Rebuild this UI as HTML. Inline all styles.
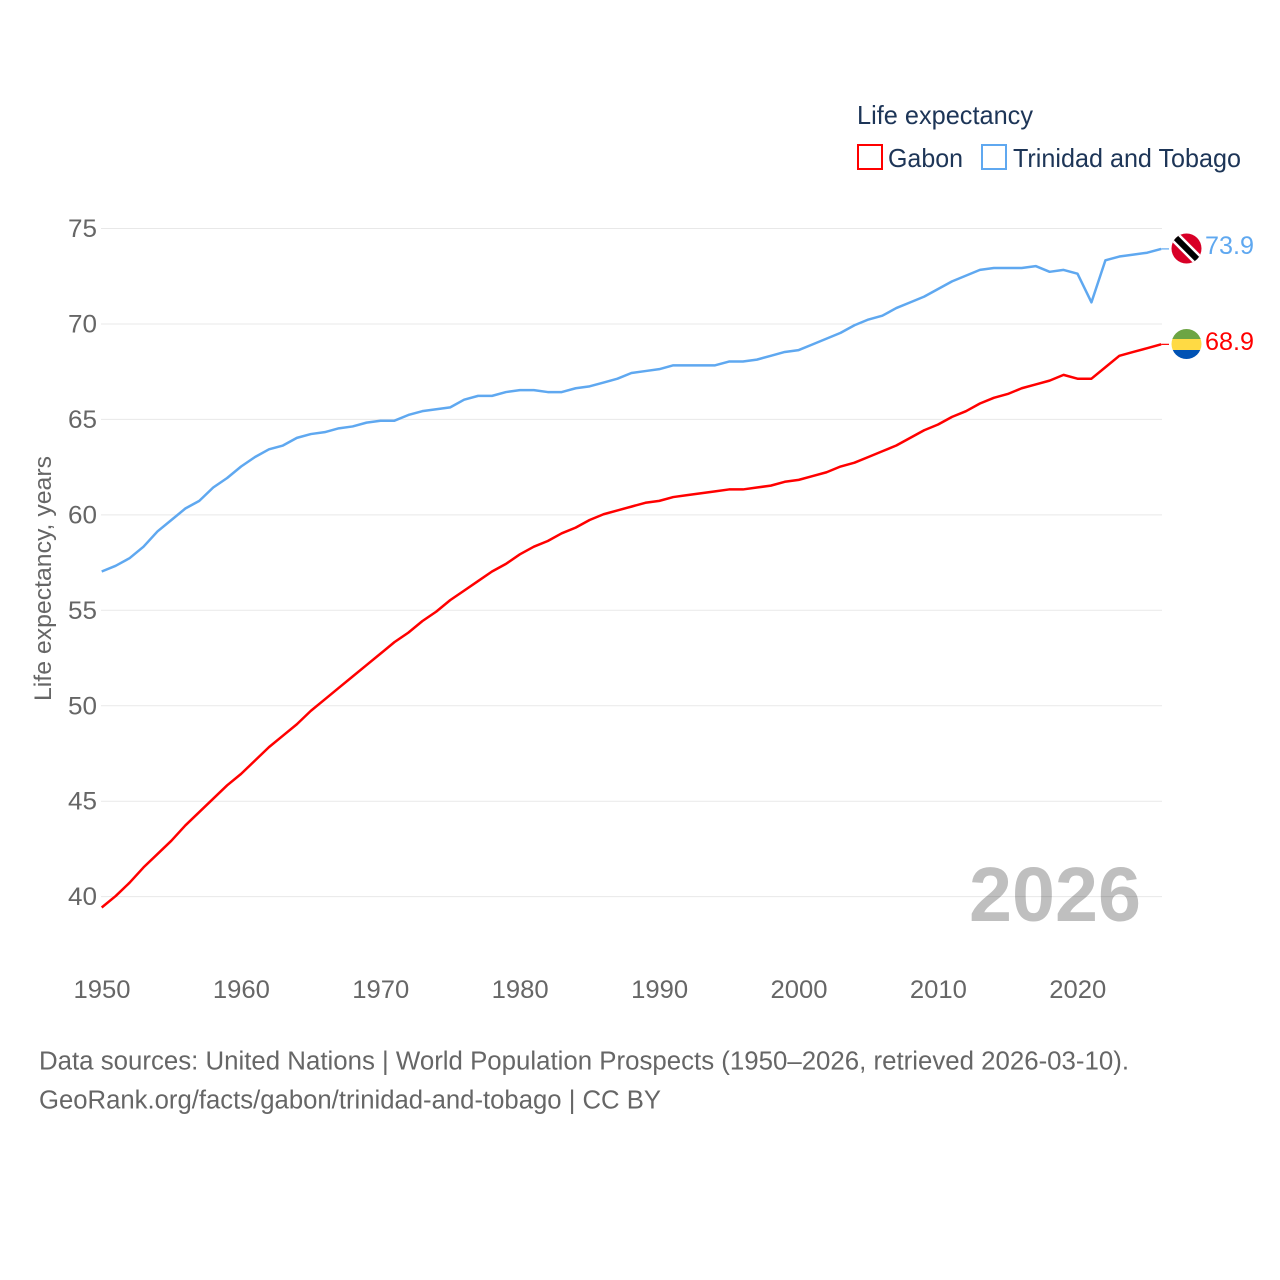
<!DOCTYPE html>
<html lang="en">
<head>
<meta charset="utf-8">
<title>Life expectancy: Gabon and Trinidad and Tobago</title>
<style>
html,body{margin:0;padding:0;background:#fff}
svg{display:block}
text{font-family:"Liberation Sans",sans-serif}
</style>
</head>
<body>
<svg id="chart" xmlns="http://www.w3.org/2000/svg" width="1280" height="1280" viewBox="0 0 1280 1280">
  <rect width="1280" height="1280" fill="#fff"/>
  <text x="969" y="921" font-size="77" font-weight="700" fill="#bfbfbf" textLength="172" lengthAdjust="spacingAndGlyphs">2026</text>
  <g id="grid"></g>
  <g id="yticks"></g>
  <g id="xticks"></g>
  <text transform="translate(51 701) rotate(-90)" font-size="24" fill="#666" textLength="245" lengthAdjust="spacingAndGlyphs">Life expectancy, years</text>
  <g id="series"></g>

  <g>
    <clipPath id="tt"><circle cx="1186.5" cy="248.5" r="15"/></clipPath>
    <g clip-path="url(#tt)">
      <rect x="1171" y="233" width="31" height="31" fill="#d80027"/>
      <line x1="1171" y1="233" x2="1202" y2="264" stroke="#fff" stroke-width="11"/>
      <line x1="1171" y1="233" x2="1202" y2="264" stroke="#000" stroke-width="6"/>
    </g>
  </g>
  <g>
    <clipPath id="ga"><circle cx="1186.5" cy="344" r="15"/></clipPath>
    <g clip-path="url(#ga)">
      <rect x="1171" y="329" width="31" height="10" fill="#6da544"/>
      <rect x="1171" y="339" width="31" height="11" fill="#ffda44"/>
      <rect x="1171" y="350" width="31" height="10" fill="#0052b4"/>
    </g>
  </g>
  <text x="1205" y="254" font-size="25" fill="#5fa8f0" textLength="49" lengthAdjust="spacingAndGlyphs">73.9</text>
  <text x="1205" y="350" font-size="25" fill="#ff0000" textLength="49" lengthAdjust="spacingAndGlyphs">68.9</text>

  <g>
    <text x="857" y="124" font-size="26" fill="#1d3557" textLength="176" lengthAdjust="spacingAndGlyphs">Life expectancy</text>
    <g>
      <rect x="858" y="145" width="24" height="24" fill="#fff" stroke="#ff0000" stroke-width="2"/>
      <text x="888" y="167" font-size="26" fill="#1d3557" textLength="75" lengthAdjust="spacingAndGlyphs">Gabon</text>
    </g>
    <g>
      <rect x="982" y="145" width="24" height="24" fill="#fff" stroke="#5fa8f0" stroke-width="2"/>
      <text x="1013" y="167" font-size="26" fill="#1d3557" textLength="228" lengthAdjust="spacingAndGlyphs">Trinidad and Tobago</text>
    </g>
  </g>

  <g>
    <text x="39" y="1069.5" font-size="25.5" fill="#666" textLength="1090" lengthAdjust="spacingAndGlyphs">Data sources: United Nations | World Population Prospects (1950–2026, retrieved 2026-03-10).</text>
    <text x="39" y="1108.5" font-size="25.5" fill="#666" textLength="622" lengthAdjust="spacingAndGlyphs">GeoRank.org/facts/gabon/trinidad-and-tobago | CC BY</text>
  </g>
</svg>
<script>
const years = [1950,1951,1952,1953,1954,1955,1956,1957,1958,1959,1960,1961,1962,1963,1964,1965,1966,1967,1968,1969,1970,1971,1972,1973,1974,1975,1976,1977,1978,1979,1980,1981,1982,1983,1984,1985,1986,1987,1988,1989,1990,1991,1992,1993,1994,1995,1996,1997,1998,1999,2000,2001,2002,2003,2004,2005,2006,2007,2008,2009,2010,2011,2012,2013,2014,2015,2016,2017,2018,2019,2020,2021,2022,2023,2024,2025,2026];
const gabon = [39.4,40.0,40.7,41.5,42.2,42.9,43.7,44.4,45.1,45.8,46.4,47.1,47.8,48.4,49.0,49.7,50.3,50.9,51.5,52.1,52.7,53.3,53.8,54.4,54.9,55.5,56.0,56.5,57.0,57.4,57.9,58.3,58.6,59.0,59.3,59.7,60.0,60.2,60.4,60.6,60.7,60.9,61.0,61.1,61.2,61.3,61.3,61.4,61.5,61.7,61.8,62.0,62.2,62.5,62.7,63.0,63.3,63.6,64.0,64.4,64.7,65.1,65.4,65.8,66.1,66.3,66.6,66.8,67.0,67.3,67.1,67.1,67.7,68.3,68.5,68.7,68.9];
const trinidad = [57.0,57.3,57.7,58.3,59.1,59.7,60.3,60.7,61.4,61.9,62.5,63.0,63.4,63.6,64.0,64.2,64.3,64.5,64.6,64.8,64.9,64.9,65.2,65.4,65.5,65.6,66.0,66.2,66.2,66.4,66.5,66.5,66.4,66.4,66.6,66.7,66.9,67.1,67.4,67.5,67.6,67.8,67.8,67.8,67.8,68.0,68.0,68.1,68.3,68.5,68.6,68.9,69.2,69.5,69.9,70.2,70.4,70.8,71.1,71.4,71.8,72.2,72.5,72.8,72.9,72.9,72.9,73.0,72.7,72.8,72.6,71.1,73.3,73.5,73.6,73.7,73.9];
const yTickValues = [40,45,50,55,60,65,70,75];
const xTickValues = [1950,1960,1970,1980,1990,2000,2010,2020];

const SVG_NS = 'http://www.w3.org/2000/svg';
function xScale(year) { return 101.7 + (year - 1950) * 13.94; }
function yScale(value) { return 228.5 + (75 - value) * 19.09; }
function markY(value) { return yScale(value) - 0.6; }

const gridGroup = document.getElementById('grid');
const yTickGroup = document.getElementById('yticks');
const xTickGroup = document.getElementById('xticks');
const seriesGroup = document.getElementById('series');

yTickValues.forEach(function (v) {
  const line = document.createElementNS(SVG_NS, 'line');
  
  
  line.setAttribute('x1', 101);
  line.setAttribute('x2', 1162);
  line.setAttribute('y1', yScale(v));
  line.setAttribute('y2', yScale(v));
  line.setAttribute('stroke', '#000');
  line.setAttribute('stroke-opacity', 0.09);
  line.setAttribute('stroke-width', 1);
  gridGroup.appendChild(line);

  const label = document.createElementNS(SVG_NS, 'text');
  
  
  label.setAttribute('x', 97);
  label.setAttribute('y', yScale(v) + 8.5);
  label.setAttribute('text-anchor', 'end');
  label.setAttribute('font-size', 25);
  label.setAttribute('fill', '#666');
  label.setAttribute('textLength', 29);
  label.setAttribute('lengthAdjust', 'spacingAndGlyphs');
  label.textContent = String(v);
  yTickGroup.appendChild(label);
});

xTickValues.forEach(function (y) {
  const label = document.createElementNS(SVG_NS, 'text');
  
  
  label.setAttribute('x', xScale(y) - 28.2);
  label.setAttribute('y', 998);
  label.setAttribute('font-size', 25);
  label.setAttribute('fill', '#666');
  label.setAttribute('textLength', 57);
  label.setAttribute('lengthAdjust', 'spacingAndGlyphs');
  label.textContent = String(y);
  xTickGroup.appendChild(label);
});

function seriesPoints(values) {
  return values.map(function (v, i) {
    return xScale(years[i]).toFixed(2) + ',' + markY(v).toFixed(2);
  }).join(' ');
}

const gabonLine = document.createElementNS(SVG_NS, 'polyline');


gabonLine.setAttribute('points', seriesPoints(gabon));
gabonLine.setAttribute('fill', 'none');
gabonLine.setAttribute('stroke', '#ff0000');
gabonLine.setAttribute('stroke-width', 2.5);
gabonLine.setAttribute('stroke-linejoin', 'round');
seriesGroup.appendChild(gabonLine);

const trinidadLine = document.createElementNS(SVG_NS, 'polyline');


trinidadLine.setAttribute('points', seriesPoints(trinidad));
trinidadLine.setAttribute('fill', 'none');
trinidadLine.setAttribute('stroke', '#5fa8f0');
trinidadLine.setAttribute('stroke-width', 2.5);
trinidadLine.setAttribute('stroke-linejoin', 'round');
seriesGroup.appendChild(trinidadLine);

const gabonConnector = document.createElementNS(SVG_NS, 'line');


gabonConnector.setAttribute('x1', xScale(2026));
gabonConnector.setAttribute('x2', 1169);
gabonConnector.setAttribute('y1', markY(gabon[gabon.length - 1]));
gabonConnector.setAttribute('y2', markY(gabon[gabon.length - 1]));
gabonConnector.setAttribute('stroke', '#ff0000');
gabonConnector.setAttribute('stroke-width', 1.2);
seriesGroup.appendChild(gabonConnector);

const trinidadConnector = document.createElementNS(SVG_NS, 'line');


trinidadConnector.setAttribute('x1', xScale(2026));
trinidadConnector.setAttribute('x2', 1169);
trinidadConnector.setAttribute('y1', markY(trinidad[trinidad.length - 1]));
trinidadConnector.setAttribute('y2', markY(trinidad[trinidad.length - 1]));
trinidadConnector.setAttribute('stroke', '#5fa8f0');
trinidadConnector.setAttribute('stroke-width', 1.2);
seriesGroup.appendChild(trinidadConnector);
</script>
</body>
</html>
